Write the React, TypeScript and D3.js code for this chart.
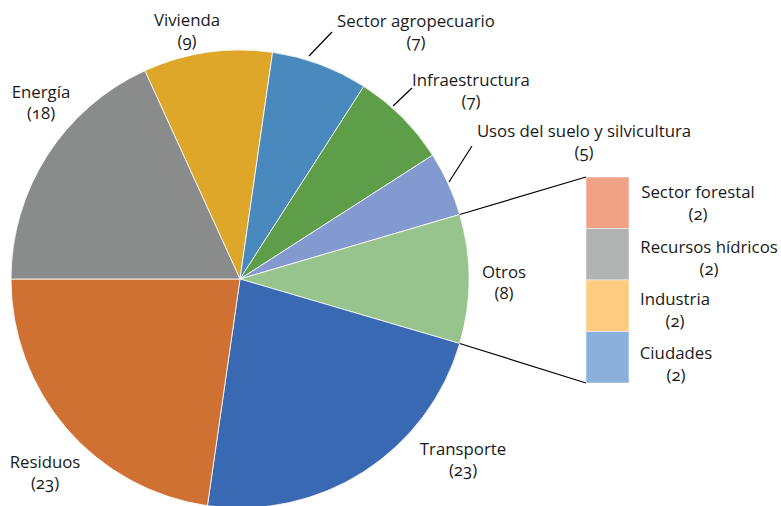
import React from "react";
import * as d3 from "d3";

// Pie slices (clockwise from top-left), share
const pieCategories = [
  "Vivienda",
  "Sector agropecuario",
  "Infraestructura",
  "Usos del suelo y silvicultura",
  "Otros",
  "Transporte",
  "Residuos",
  "Energía",
];
const pieShares = [4, 3, 3, 2, 4, 10, 10, 8];
const pieLabels = ["9", "7", "7", "5", "8", "23", "23", "18"];
const pieColors = [
  "#DFA72A",
  "#4A89BD",
  "#5F9E48",
  "#829ACF",
  "#97C38D",
  "#3A69B4",
  "#CF7133",
  "#8A8C8B",
];

// Bar of "Otros"
const barCategories = ["Sector forestal", "Recursos hídricos", "Industria", "Ciudades"];
const barShares = [1, 1, 1, 1];
const barLabels = ["2", "2", "2", "2"];
const barColors = ["#F1A286", "#B0B3B2", "#FECB80", "#89B1DC"];

// label layout (annotation positions)
const pieLabelPos: [number, number][] = [
  [187, 20],
  [416, 21],
  [471, 80],
  [584, 131],
  [504, 272],
  [463, 449],
  [45, 462],
  [41, 92],
];
const leaders: ([number, number, number, number] | null)[] = [
  null,
  [309, 56, 332, 32],
  [393, 106, 412, 88],
  [449, 182, 472, 146],
  null,
  null,
  null,
  null,
];
const barLabelPos: [number, number][] = [
  [698, 192],
  [709, 247],
  [675, 299],
  [676, 353],
];

const W = 781;
const H = 506;
const cx = 240;
const cy = 279;
const R = 229;
const font = "'Open Sans', 'Noto Sans', sans-serif";
const fs = 16.8;
const lineGap = 21.5;

export default function App() {
  const total = d3.sum(pieShares);
  const otrosIndex = 4;
  const otrosAngle = (pieShares[otrosIndex] / total) * Math.PI * 2;
  const cumBefore = d3.sum(pieShares.slice(0, otrosIndex));
  // Otros centred on the right (90°)
  const start = Math.PI / 2 - otrosAngle / 2 - (cumBefore / total) * Math.PI * 2;
  const pie = d3
    .pie<number>()
    .sort(null)
    .value((d) => d)
    .startAngle(start)
    .endAngle(start + Math.PI * 2);
  const arcs = pie(pieShares);
  const arc = d3.arc<d3.PieArcDatum<number>>().innerRadius(0).outerRadius(R);

  const otros = arcs[otrosIndex];
  const pt = (a: number): [number, number] => [cx + R * Math.sin(a), cy - R * Math.cos(a)];
  const p1 = pt(otros.startAngle);
  const p2 = pt(otros.endAngle);

  const barX = 586;
  const barW = 43;
  const y = d3.scaleLinear().domain([0, d3.sum(barShares)]).range([177, 383]);
  const barCum = d3.cumsum(barShares);

  return (
    <svg width={W} height={H} style={{ position: "absolute", left: 0, top: 0 }}>
      <rect width={W} height={H} fill="#fff" />
      <g transform={`translate(${cx},${cy})`}>
        {arcs.map((a, i) => (
          <path key={i} d={arc(a) || ""} fill={pieColors[i]} stroke="#fff" strokeWidth={0.8} />
        ))}
      </g>
      {barShares.map((v, i) => (
        <rect
          key={i}
          x={barX}
          y={y(barCum[i] - v)}
          width={barW}
          height={y(barCum[i]) - y(barCum[i] - v)}
          fill={barColors[i]}
          stroke="#fff"
          strokeWidth={0.5}
        />
      ))}
      <line x1={p1[0]} y1={p1[1]} x2={barX} y2={y(0)} stroke="#000" strokeWidth={1.2} />
      <line x1={p2[0]} y1={p2[1]} x2={barX} y2={y(d3.sum(barShares))} stroke="#000" strokeWidth={1.2} />
      {leaders.map((l, i) =>
        l ? <line key={i} x1={l[0]} y1={l[1]} x2={l[2]} y2={l[3]} stroke="#000" strokeWidth={1.2} /> : null
      )}
      <g fontFamily={font} fontSize={fs} fill="#1a1a1a" textAnchor="middle" style={{ fontVariantNumeric: "oldstyle-nums" }}>
        {pieCategories.map((c, i) => (
          <g key={i}>
            <text x={pieLabelPos[i][0]} y={pieLabelPos[i][1]} dy="0.35em">{c}</text>
            <text x={pieLabelPos[i][0]} y={pieLabelPos[i][1] + lineGap} dy="0.35em">({pieLabels[i]})</text>
          </g>
        ))}
        {barCategories.map((c, i) => (
          <g key={i}>
            <text x={barLabelPos[i][0]} y={barLabelPos[i][1]} dy="0.35em">{c}</text>
            <text x={barLabelPos[i][0]} y={barLabelPos[i][1] + 22} dy="0.35em">({barLabels[i]})</text>
          </g>
        ))}
      </g>
    </svg>
  );
}
